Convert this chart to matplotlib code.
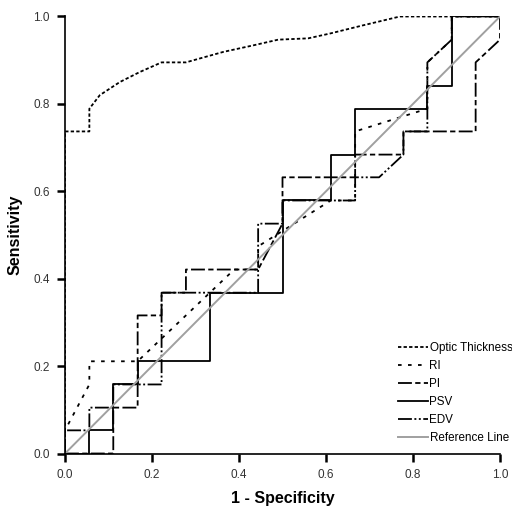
import numpy as np
import matplotlib
matplotlib.use("Agg")
import matplotlib.pyplot as plt

plt.rcParams['font.family'] = ['Liberation Sans', 'DejaVu Sans']
plt.rcParams['lines.scale_dashes'] = False

# ROC points (1 - specificity, sensitivity)
optic_fpr = [0.0, 0.0, 0.056, 0.056, 0.080, 0.126, 0.172, 0.222, 0.278, 0.310, 0.364, 0.433, 0.490, 0.559, 0.609, 0.686, 0.770, 1.0]
optic_tpr = [0.0, 0.737, 0.737, 0.789, 0.820, 0.850, 0.873, 0.895, 0.895, 0.904, 0.919, 0.934, 0.947, 0.950, 0.961, 0.980, 1.0, 1.0]

ri_fpr = [0.0, 0.0, 0.056, 0.056, 0.167, 0.389, 0.444, 0.444, 0.611, 0.667, 0.667, 0.833, 0.833, 0.889, 0.889, 1.0]
ri_tpr = [0.0, 0.053, 0.158, 0.211, 0.211, 0.421, 0.421, 0.474, 0.579, 0.579, 0.737, 0.789, 0.895, 0.947, 1.0, 1.0]

pi_fpr = [0.0, 0.111, 0.111, 0.167, 0.167, 0.222, 0.222, 0.278, 0.278, 0.444, 0.500, 0.500, 0.667, 0.667, 0.778, 0.778, 0.944, 0.944, 1.0, 1.0]
pi_tpr = [0.0, 0.0, 0.105, 0.105, 0.316, 0.316, 0.368, 0.368, 0.421, 0.421, 0.526, 0.632, 0.632, 0.684, 0.684, 0.737, 0.737, 0.895, 0.947, 1.0]

psv_fpr = [0.0, 0.056, 0.056, 0.111, 0.111, 0.167, 0.167, 0.333, 0.333, 0.500, 0.500, 0.611, 0.611, 0.667, 0.667, 0.833, 0.833, 0.889, 0.889, 1.0]
psv_tpr = [0.0, 0.0, 0.053, 0.053, 0.158, 0.158, 0.211, 0.211, 0.368, 0.368, 0.579, 0.579, 0.684, 0.684, 0.789, 0.789, 0.842, 0.842, 1.0, 1.0]

edv_fpr = [0.0, 0.0, 0.056, 0.056, 0.111, 0.111, 0.222, 0.222, 0.444, 0.444, 0.500, 0.500, 0.667, 0.667, 0.722, 0.778, 0.778, 0.833, 0.833, 0.889, 0.889, 1.0]
edv_tpr = [0.0, 0.053, 0.053, 0.105, 0.105, 0.158, 0.158, 0.368, 0.368, 0.526, 0.526, 0.579, 0.579, 0.632, 0.632, 0.684, 0.737, 0.737, 0.895, 0.947, 1.0, 1.0]

ref_x = [0.0, 1.0]
ref_y = [0.0, 1.0]

fig = plt.figure(figsize=(5.12, 5.11), dpi=100)
ax = fig.add_axes([65/512, 1 - 453.5/511, 435/512, 437/511])

lw = 1.3
ax.plot(optic_fpr, optic_tpr, color='black', lw=lw, linestyle=(0, (2.4, 1.6)), label='Optic Thickness')
ax.plot(ri_fpr, ri_tpr, color='black', lw=lw, linestyle=(0, (2.6, 4.6)), label='RI')
ax.plot(pi_fpr, pi_tpr, color='black', lw=lw, linestyle=(0, (10, 2.4, 3.8, 2.4)), label='PI')
ax.plot(psv_fpr, psv_tpr, color='black', lw=lw, linestyle='-', label='PSV')
ax.plot(edv_fpr, edv_tpr, color='black', lw=lw, linestyle=(0, (10, 1.8, 1.4, 1.8, 1.4, 1.8)), label='EDV')
ax.plot(ref_x, ref_y, color='#a0a0a0', lw=1.4, label='Reference Line')

ax.set_xlim(0, 1)
ax.set_ylim(0, 1)
ax.set_xticks([0, 0.2, 0.4, 0.6, 0.8, 1.0])
ax.set_yticks([0, 0.2, 0.4, 0.6, 0.8, 1.0])
ax.xaxis.set_major_formatter(matplotlib.ticker.FormatStrFormatter('%.1f'))
ax.yaxis.set_major_formatter(matplotlib.ticker.FormatStrFormatter('%.1f'))
for s in ['top', 'right']:
    ax.spines[s].set_visible(False)
for s in ['left', 'bottom']:
    ax.spines[s].set_linewidth(1.2)
ax.tick_params(direction='out', length=6, width=1.8, labelsize=8.5, labelcolor='#333333', pad=5)
ax.set_xlabel('1 - Specificity', fontsize=11.5, fontweight='bold', labelpad=7)
ax.set_ylabel('Sensitivity', fontsize=11.5, fontweight='bold', labelpad=8)

fig.legend(loc='upper left', bbox_to_anchor=(398/512, 1 - 342/511), frameon=False,
           fontsize=8.4, handlelength=2.6, handletextpad=0.1, labelspacing=0.52,
           borderaxespad=0, borderpad=0)

fig.savefig('out.png', dpi=100)
